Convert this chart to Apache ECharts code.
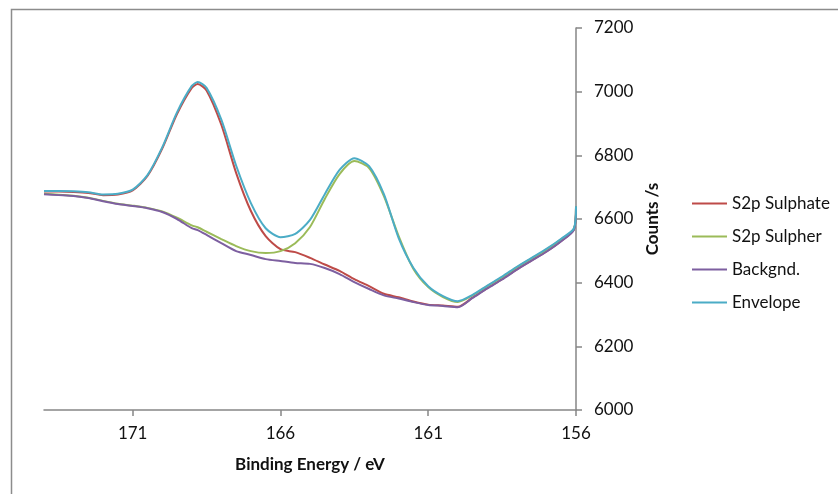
<!DOCTYPE html>
<html>
<head>
<meta charset="utf-8">
<script src="https://cdn.jsdelivr.net/npm/echarts@6/dist/echarts.min.js"></script>
<style>
  html, body { margin: 0; padding: 0; background: #fff; }
  #chart { width: 838px; height: 494px; }
</style>
</head>
<body>
<div id="chart"></div>
<script>
// Binding energies (eV) shared by all four traces
const bindingEnergy = [174, 173.5, 173, 172.5, 172, 171.5, 171, 170.5, 170, 169.5, 169, 168.8,
  168.5, 168, 167.5, 167, 166.5, 166, 165.5, 165, 164.5, 164, 163.5, 163, 162.5, 162,
  161.5, 161, 160.5, 160, 159.5, 159, 158.5, 158, 157.5, 157, 156.5, 156.07, 156];

// Counts per second
const sulphate = [6686, 6686, 6685, 6682, 6675, 6677, 6690, 6735, 6821, 6930, 7012, 7024,
  7004, 6896, 6745, 6625, 6546, 6505, 6496, 6478, 6457, 6437, 6411, 6389, 6365, 6354,
  6341, 6331, 6328, 6324, 6353, 6383, 6411, 6442, 6470, 6498, 6531, 6567, 6639];

const sulpher = [6679, 6676, 6673, 6667, 6657, 6648, 6642, 6635, 6624, 6604, 6580, 6574,
  6560, 6537, 6515, 6499, 6493, 6499, 6524, 6575, 6663, 6741, 6782, 6760, 6672, 6546,
  6443, 6386, 6355, 6339, 6360, 6389, 6417, 6448, 6476, 6504, 6536, 6569, 6639];

const background = [6678, 6675, 6672, 6666, 6656, 6647, 6641, 6634, 6622, 6600, 6571, 6565,
  6550, 6524, 6499, 6487, 6474, 6468, 6462, 6459, 6446, 6427, 6402, 6380, 6360, 6350,
  6339, 6330, 6327, 6323, 6352, 6382, 6410, 6441, 6469, 6497, 6530, 6566, 6638];

const envelope = [6688, 6688, 6687, 6684, 6677, 6679, 6692, 6738, 6825, 6935, 7018, 7030,
  7012, 6912, 6768, 6650, 6571, 6543, 6553, 6597, 6678, 6754, 6791, 6766, 6678, 6540,
  6446, 6389, 6358, 6342, 6362, 6391, 6419, 6450, 6478, 6506, 6538, 6571, 6640];

const energyTicks = [156, 161, 166, 171];

const seriesNames = ['S2p Sulphate', 'S2p Sulpher', 'Backgnd.', 'Envelope'];
const seriesValues = [sulphate, sulpher, background, envelope];
const seriesColors = ['#BE4B48', '#9BBB59', '#7D5FA0', '#4BACC6'];

const FONT = 'Lato, "Open Sans", sans-serif';
const axisGray = '#868686';
const textColor = '#111';

const chart = echarts.init(document.getElementById('chart'), null, { renderer: 'canvas' });

chart.setOption({
  animation: false,
  backgroundColor: '#fff',
  textStyle: { fontFamily: FONT },
  graphic: [{
    type: 'rect',
    left: 9, top: 7,
    shape: { width: 900, height: 600 },
    style: { fill: 'none', stroke: '#8c8c8c', lineWidth: 1.5 },
    silent: true, z: -10
  }],
  grid: { left: 44, right: 262, top: 28, bottom: 84, containLabel: false },
  legend: {
    orient: 'vertical',
    left: 687, top: 190,
    icon: 'rect',
    itemWidth: 35, itemHeight: 2,
    itemGap: 16,
    textStyle: { fontFamily: FONT, fontSize: 17, color: textColor },
    data: seriesNames
  },
  xAxis: {
    type: 'value',
    min: 156, max: 174,
    inverse: true,
    name: 'Binding Energy / eV',
    nameLocation: 'middle',
    nameGap: 46,
    nameTextStyle: { fontFamily: FONT, fontSize: 17, fontWeight: 'bold', color: textColor },
    axisLine: { show: true, lineStyle: { color: axisGray, width: 1.5 } },
    axisTick: { show: true, length: 6, inside: false, customValues: energyTicks,
      lineStyle: { color: axisGray, width: 1.5 } },
    axisLabel: { customValues: energyTicks, margin: 15, fontFamily: FONT, fontSize: 17, color: textColor },
    splitLine: { show: false }
  },
  yAxis: {
    type: 'value',
    position: 'right',
    min: 6000, max: 7200, interval: 200,
    name: 'Counts /s',
    nameLocation: 'middle',
    nameRotate: 90,
    nameGap: 62,
    nameTextStyle: { fontFamily: FONT, fontSize: 17, fontWeight: 'bold', color: textColor },
    axisLine: { show: true, lineStyle: { color: axisGray, width: 1.5 } },
    axisTick: { show: true, length: 6, inside: false, lineStyle: { color: axisGray, width: 1.5 } },
    axisLabel: { margin: 18, fontFamily: FONT, fontSize: 17, color: textColor,
      formatter: (v) => String(v) },
    splitLine: { show: false }
  },
  series: seriesNames.map((name, i) => ({
    name,
    type: 'line',
    data: bindingEnergy.map((e, k) => [e, seriesValues[i][k]]),
    showSymbol: false,
    smooth: 0.25,
    color: seriesColors[i],
    lineStyle: { width: 2, color: seriesColors[i] },
    z: 2 + i
  }))
});
</script>
</body>
</html>
